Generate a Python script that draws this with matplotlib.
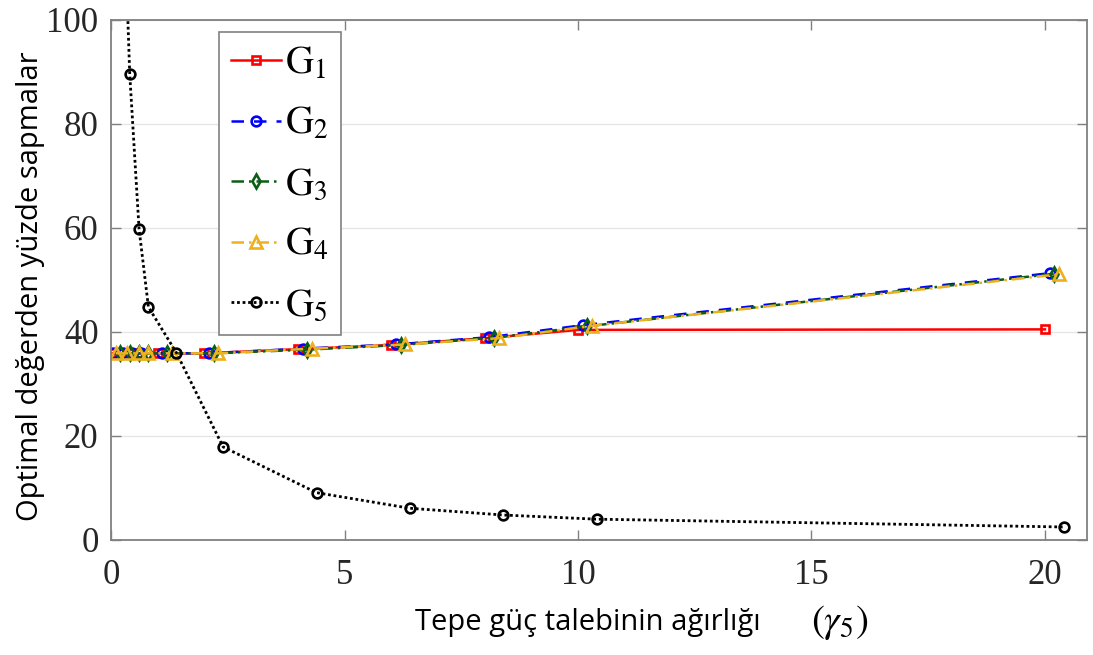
# Percentage deviation from optimum vs. peak power demand weight (gamma_5)
import matplotlib
matplotlib.use('Agg')
import matplotlib.pyplot as plt

# Data
g1_x = [0.0, 0.2, 0.4, 0.6, 1.0, 2.0, 4.0, 6.0, 8.0, 10.0, 20.0]
g1_y = [35.9, 35.9, 35.9, 35.9, 35.9, 35.9, 36.7, 37.5, 38.8, 40.4, 40.5]

g2_x = [0.05, 0.25, 0.45, 0.65, 1.1, 2.1, 4.1, 6.1, 8.1, 10.1, 20.1]
g2_y = [35.9, 35.9, 35.9, 35.9, 35.9, 35.9, 36.8, 37.6, 39.0, 41.3, 51.3]

g3_x = [0.2, 0.4, 0.6, 0.8, 1.2, 2.2, 4.2, 6.2, 8.2, 10.2, 20.2]
g3_y = [35.9, 35.9, 35.9, 35.9, 35.9, 35.9, 36.6, 37.5, 38.9, 41.1, 51.2]

g4_x = [0.1, 0.35, 0.6, 0.8, 1.3, 2.3, 4.3, 6.3, 8.3, 10.3, 20.3]
g4_y = [35.9, 35.9, 35.9, 35.9, 35.9, 35.9, 36.8, 37.6, 38.8, 41.2, 51.1]

g5_x = [0.2, 0.4, 0.6, 0.8, 1.4, 2.4, 4.4, 6.4, 8.4, 10.4, 20.4]
g5_y = [142.0, 89.6, 59.8, 44.8, 36.0, 17.9, 9.1, 6.1, 4.8, 4.0, 2.5]

x_ticks = [0, 5, 10, 15, 20]
y_ticks = [0, 20, 40, 60, 80, 100]

plt.rcParams['mathtext.fontset'] = 'stix'
plt.rcParams['font.serif'] = ['Liberation Serif', 'DejaVu Serif']

fig = plt.figure(figsize=(10.93, 6.55), dpi=100)
ax = fig.add_axes([0.1016, 0.1756, 0.8929, 0.7939])

# Series: (x, y, color, linestyle, marker, marker size, label)
series = [
    (g1_x, g1_y, '#FF0000', '-', 's', 6, r'$\mathrm{G}_1$'),
    (g2_x, g2_y, '#0000FF', (0, (5, 4)), 'o', 7, r'$\mathrm{G}_2$'),
    (g3_x, g3_y, '#0B5E16', (0, (5, 2, 1, 2)), 'd', 7, r'$\mathrm{G}_3$'),
    (g4_x, g4_y, '#EDB120', (0, (5, 2, 1, 2)), '^', 9, r'$\mathrm{G}_4$'),
    (g5_x, g5_y, '#000000', (0, (1, 1)), 'o', 7, r'$\mathrm{G}_5$'),
]

for xs, ys, col, ls, mk, ms, lab in series:
    lw = 2.0 if col == '#000000' else 1.8
    ax.plot(xs, ys, color=col, linestyle=ls, linewidth=lw, marker=mk,
            markersize=ms, markerfacecolor='none', markeredgewidth=1.9,
            label=lab)

# Axes limits, ticks and grid
ax.set_xlim(0, 20.9)
ax.set_ylim(0, 100)
ax.set_xticks(x_ticks)
ax.set_yticks(y_ticks)
ax.set_xticklabels([str(t) for t in x_ticks], fontfamily='Liberation Serif')
ax.set_yticklabels([str(t) for t in y_ticks], fontfamily='Liberation Serif')
ax.yaxis.grid(True, color='#E6E6E6', linewidth=1)
ax.set_axisbelow(True)
ax.tick_params(direction='in', length=7, width=1, color='#808080',
               top=True, right=True, labelsize=25, labelcolor='#262626')
ax.tick_params(axis='x', pad=14)
ax.tick_params(axis='y', pad=9)
for sp in ax.spines.values():
    sp.set_color('#808080')
    sp.set_linewidth(1.3)

# Legend
leg = ax.legend(loc='upper left', bbox_to_anchor=(0.1107, 0.977),
                fontsize=28, handlelength=1.3, labelspacing=0.58,
                borderpad=0.3, handletextpad=0.1, fancybox=False,
                framealpha=1, edgecolor='#808080', borderaxespad=0)
leg.get_frame().set_linewidth(1.2)

# Axis labels
fig.text(0.538, 0.05, 'Tepe güç talebinin ağırlığı', fontsize=21,
         family='Open Sans', ha='center', va='center')
fig.text(0.768, 0.05, r'$(\gamma_5)$', fontsize=28, ha='center',
         va='center')
fig.text(0.028, 0.563, 'Optimal değerden yüzde sapmalar', fontsize=21,
         family='Open Sans', rotation=90, ha='center', va='center')

fig.savefig('out.png', dpi=100)
